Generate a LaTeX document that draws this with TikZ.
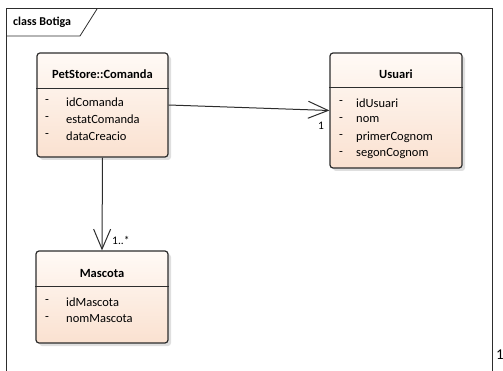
\documentclass[tikz,border=0pt]{standalone}
\usepackage{fontspec}
\setmainfont{Carlito}
\usetikzlibrary{arrows.meta,shadows}
\definecolor{peachtop}{RGB}{255,250,246}
\definecolor{peachbot}{RGB}{250,225,208}
\definecolor{edgegray}{RGB}{45,45,45}
\tikzset{
  classbox/.style={draw=edgegray, line width=1.2pt, rounded corners=3pt,
    top color=peachtop, bottom color=peachbot, inner sep=0pt,
    drop shadow={shadow xshift=3pt, shadow yshift=-3pt, opacity=.25}},
  title/.style={font=\fontsize{12.5}{14}\selectfont\bfseries, inner sep=0pt},
  attr/.style={anchor=west, font=\fontsize{12.5}{14}\selectfont, inner sep=0pt},
  mult/.style={font=\fontsize{11.5}{13}\selectfont, inner sep=0pt},
  assoc/.style={draw=edgegray, line width=1pt, -{Straight Barb[length=20pt,width=17pt]}},
}
\begin{document}
\begin{tikzpicture}[x=1pt,y=-1pt]
  \useasboundingbox (0,0) rectangle (503,371);
  % frame
  \draw[edgegray, line width=1pt] (6,380) -- (6,9) -- (492,9) -- (492,380);
  \draw[edgegray, line width=0.8pt] (6,36) -- (80,36) -- (97,9);
  \node[anchor=west, inner sep=0pt, font=\fontsize{12}{14}\selectfont\bfseries] (tab) at (13,22) {class Botiga};
  % classes
  \node[classbox, minimum width=131, minimum height=104] (comanda) at (102.5,105) {};
  \node[classbox, minimum width=132, minimum height=115] (usuari) at (396,110.5) {};
  \node[classbox, minimum width=132, minimum height=92] (mascota) at (102,297) {};
  \draw[edgegray, line width=0.8pt] (comanda.west |- 0,88) -- (comanda.east |- 0,88);
  \draw[edgegray, line width=0.8pt] (usuari.west |- 0,87) -- (usuari.east |- 0,87);
  \draw[edgegray, line width=0.8pt] (mascota.west |- 0,286) -- (mascota.east |- 0,286);
  \node[title] (comanda-t) at (comanda.north |- 0,74) {PetStore::Comanda};
  \node[title] (usuari-t) at (usuari.north |- 0,74) {Usuari};
  \node[title] (mascota-t) at (mascota.north |- 0,273) {Mascota};
  \foreach \t [count=\i] in {idComanda,estatComanda,dataCreacio} {
    \node[attr] (comanda-v\i) at (45,85+17*\i) {-};
    \node[attr] (comanda-a\i) at (66,85+17*\i) {\t};
  }
  \foreach \t [count=\i] in {idUsuari,nom,primerCognom,segonCognom} {
    \node[attr] (usuari-v\i) at (339,86+17*\i) {-};
    \node[attr] (usuari-a\i) at (356,86+17*\i) {\t};
  }
  \foreach \t [count=\i] in {idMascota,nomMascota} {
    \node[attr] (mascota-v\i) at (45,285+17*\i) {-};
    \node[attr] (mascota-a\i) at (66,285+17*\i) {\t};
  }
  % associations
  \draw[assoc] (comanda.east) -- (usuari.west);
  \draw[assoc] (comanda.south) -- (mascota.north);
  \node[mult] (m1) at (321,126) {1};
  \node[mult, anchor=west] (m2) at (112,240) {1..*};
  \node[anchor=west, inner sep=0pt, font=\fontsize{15}{17}\selectfont] (pg) at (496,355) {1};
\end{tikzpicture}
\end{document}
